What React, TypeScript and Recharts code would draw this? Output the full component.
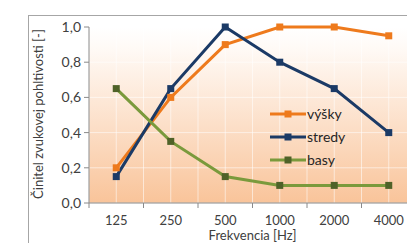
import React from 'react';
import { LineChart, Line, XAxis, YAxis, CartesianGrid, Label } from 'recharts';

const categories = ['125', '250', '500', '1000', '2000', '4000'];
const vysky = [0.2, 0.6, 0.9, 1.0, 1.0, 0.95];
const stredy = [0.15, 0.65, 1.0, 0.8, 0.65, 0.4];
const basy = [0.65, 0.35, 0.15, 0.1, 0.1, 0.1];
const yTicks = [0, 0.2, 0.4, 0.6, 0.8, 1.0];
const yGrid = [0, 0.1, 0.2, 0.3, 0.4, 0.5, 0.6, 0.7, 0.8, 0.9, 1.0];

const seriesNames = ['výšky', 'stredy', 'basy'];
const seriesKeys = ['vysky', 'stredy', 'basy'];
const lineColors = ['#EE7A1C', '#1B3A66', '#7A9A3C'];
const markerColors = ['#EE7A1C', '#1B3A66', '#4F6228'];

const data = categories.map((c, i) => ({
  idx: i,
  cat: c,
  vysky: vysky[i],
  stredy: stredy[i],
  basy: basy[i],
}));

const xHalfTicks: number[] = [];
for (let i = 0; i <= categories.length * 2; i++) xHalfTicks.push(-0.5 + i * 0.5);

const FONT = 'Lato, "Open Sans", sans-serif';
const TEXT = '#404040';
const AXIS = '#8a8a8a';

const XTick = (props: any) => {
  const { x, y, payload } = props;
  const v = payload.value;
  if (Number.isInteger(v)) {
    return (
      <text x={x} y={y} dy="0.71em" textAnchor="middle" fill={TEXT} fontSize={13} fontFamily={FONT}>
        {categories[v]}
      </text>
    );
  }
  return <line x1={x} x2={x} y1={y - 13} y2={y - 8} stroke={AXIS} strokeWidth={1} />;
};

const makeDot = (color: string) => (props: any) => {
  const { cx, cy, index } = props;
  if (cx == null || cy == null) return <g key={index} />;
  return <rect key={index} x={cx - 3.5} y={cy - 3.5} width={7} height={7} fill={color} />;
};

const YLabel = (props: any) => {
  const vb = props.viewBox || { x: 0, y: 27, width: 89, height: 176 };
  const cx = vb.x + 38;
  const cy = vb.y + vb.height / 2 - 1;
  return (
    <text
      transform={`translate(${cx},${cy}) rotate(-90)`}
      textAnchor="middle"
      dy="0.35em"
      fill={TEXT}
      fontSize={13}
      fontFamily={FONT}
    >
      Činitel zvukovej pohltivosti [-]
    </text>
  );
};

const LegendBox = () => (
  <div style={{ position: 'absolute', left: 270, top: 102, fontFamily: FONT, fontSize: 14, color: '#262626' }}>
    {seriesNames.map((n, k) => (
      <div key={n} style={{ display: 'flex', alignItems: 'center', height: 23 }}>
        <svg width={36} height={10} style={{ display: 'block' }}>
          <line x1={0} x2={36} y1={5} y2={5} stroke={lineColors[k]} strokeWidth={3} />
          <rect x={14.5} y={1.5} width={7} height={7} fill={markerColors[k]} />
        </svg>
        <span style={{ marginLeft: 1, lineHeight: '23px' }}>{n}</span>
      </div>
    ))}
  </div>
);

export default function App() {
  return (
    <div style={{ position: 'absolute', left: 0, top: 0, width: 407, height: 243, overflow: 'hidden', background: '#fff' }}>
      <div
        style={{
          position: 'absolute',
          left: 28,
          top: 15,
          width: 420,
          height: 260,
          border: '1.5px solid #a6a6a6',
          boxSizing: 'border-box',
        }}
      />
      <div style={{ position: 'absolute', left: 0, top: 0 }}>
        <LineChart width={420} height={243} data={data} margin={{ top: 27, right: 4, bottom: 0, left: 0 }}>
          <defs>
            <linearGradient id="bgGrad" x1="0" y1="0" x2="0" y2="1">
              <stop offset="0%" stopColor="#ffffff" />
              <stop offset="12%" stopColor="#fffaf6" />
              <stop offset="100%" stopColor="#f9c49a" />
            </linearGradient>
          </defs>
          <CartesianGrid
            fill="url(#bgGrad)"
            stroke="#ffffff"
            strokeOpacity={0.55}
            horizontalValues={yGrid}
            verticalValues={xHalfTicks}
          />
          <XAxis
            dataKey="idx"
            type="number"
            domain={[-0.5, categories.length - 0.5]}
            ticks={xHalfTicks}
            interval={0}
            height={40}
            tickSize={5}
            tickMargin={8}
            tickLine={false}
            axisLine={{ stroke: AXIS }}
            tick={<XTick />}
            label={{ value: 'Frekvencia [Hz]', position: 'insideBottom', offset: 3, fill: TEXT, fontSize: 13, fontFamily: FONT }}
          />
          <YAxis
            type="number"
            domain={[0, 1]}
            ticks={yTicks}
            width={89}
            tickSize={5}
            tickMargin={3}
            axisLine={{ stroke: AXIS }}
            tickLine={{ stroke: AXIS }}
            tickFormatter={(v: number) => v.toFixed(1).replace('.', ',')}
            tick={{ fill: TEXT, fontSize: 14, fontFamily: FONT }}
          >
            <Label content={<YLabel />} />
          </YAxis>
          {seriesKeys.map((k, i) => (
            <Line
              key={k}
              dataKey={k}
              name={seriesNames[i]}
              stroke={lineColors[i]}
              strokeWidth={3}
              dot={makeDot(markerColors[i])}
              activeDot={false}
              isAnimationActive={false}
            />
          ))}
        </LineChart>
      </div>
      <LegendBox />
    </div>
  );
}
